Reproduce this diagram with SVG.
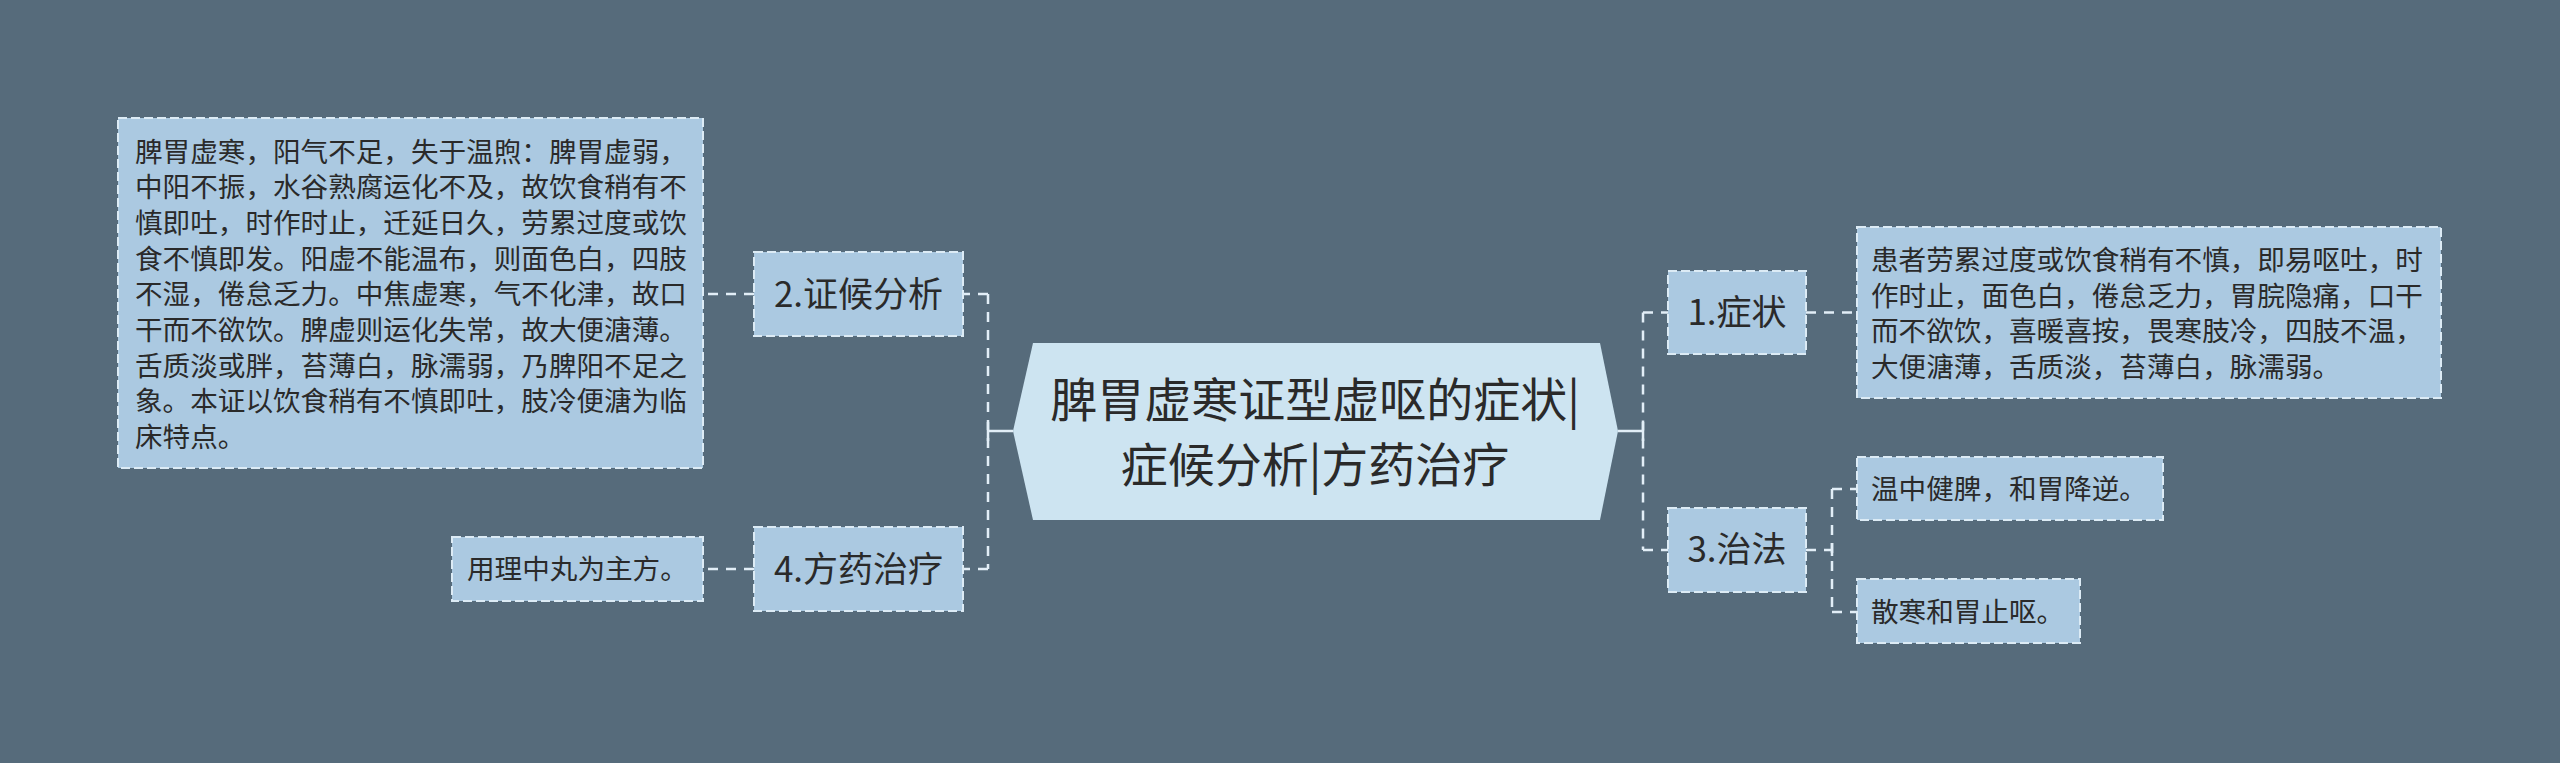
<svg xmlns="http://www.w3.org/2000/svg" width="2560" height="763" viewBox="0 0 2560 763">
<style>
.bg{fill:#566b7b}
.box{fill:#abc9e1;stroke:#dcebf5;stroke-width:2;stroke-dasharray:9 4}
.center{fill:#cde4f1}
.t{font-family:"Noto Sans CJK SC","Noto Sans",sans-serif;fill:#2a2a2a}
.body{font-size:27.6px}
.branch{font-size:35px;text-anchor:middle}
.title{font-size:47px;text-anchor:middle}
.solid{fill:none;stroke:#e2eef7;stroke-width:2.5}
.dash{fill:none;stroke:#e2eef7;stroke-width:2.5;stroke-dasharray:10 8}
</style>
<rect class="bg" x="0" y="0" width="2560" height="763"/>
<g id="connectors">
<path class="solid" d="M1013,431 H988 M988,422 V441"/>
<path class="dash" d="M988,294 V569 M988,294 H963 M988,569 H963"/>
<path class="dash" d="M754,294 H703 M754,569 H703"/>
<path class="solid" d="M1618,431 H1643 M1643,422 V441"/>
<path class="dash" d="M1643,312.5 V550 M1643,312.5 H1668 M1643,550 H1668"/>
<path class="dash" d="M1806,312.5 H1857"/>
<path class="dash" d="M1806,550 H1832 M1832,489 V612 M1832,489 H1857 M1832,612 H1857"/>
<path class="solid" d="M1832,543 V556"/>
</g>
<g id="center">
<polygon class="center" points="1033,343 1600,343 1618,431 1600,520 1033,520 1013,431"/>
<text class="t title" x="1315" y="417">脾胃虚寒证型虚呕的症状|</text>
<text class="t title" x="1315" y="482">症候分析|方药治疗</text>
</g>
<g id="n2">
<rect class="box" x="754" y="252" width="209" height="84"/>
<text class="t branch" x="858.5" y="307">2.证候分析</text>
</g>
<g id="n2a">
<rect class="box" x="118" y="118" width="585" height="350"/>
<text class="t body" x="135" y="161.5">脾胃虚寒，阳气不足，失于温煦：脾胃虚弱，</text>
<text class="t body" x="135" y="197.2">中阳不振，水谷熟腐运化不及，故饮食稍有不</text>
<text class="t body" x="135" y="232.9">慎即吐，时作时止，迁延日久，劳累过度或饮</text>
<text class="t body" x="135" y="268.6">食不慎即发。阳虚不能温布，则面色白，四肢</text>
<text class="t body" x="135" y="304.3">不湿，倦怠乏力。中焦虚寒，气不化津，故口</text>
<text class="t body" x="135" y="340">干而不欲饮。脾虚则运化失常，故大便溏薄。</text>
<text class="t body" x="135" y="375.7">舌质淡或胖，苔薄白，脉濡弱，乃脾阳不足之</text>
<text class="t body" x="135" y="411.4">象。本证以饮食稍有不慎即吐，肢冷便溏为临</text>
<text class="t body" x="135" y="447.1">床特点。</text>
</g>
<g id="n4">
<rect class="box" x="754" y="527" width="209" height="84"/>
<text class="t branch" x="858.5" y="582">4.方药治疗</text>
</g>
<g id="n4a">
<rect class="box" x="452" y="537" width="251" height="64"/>
<text class="t body" x="467" y="579">用理中丸为主方。</text>
</g>
<g id="n1">
<rect class="box" x="1668" y="271" width="138" height="83"/>
<text class="t branch" x="1737" y="325">1.症状</text>
</g>
<g id="n1a">
<rect class="box" x="1857" y="227" width="584" height="171"/>
<text class="t body" x="1871" y="270">患者劳累过度或饮食稍有不慎，即易呕吐，时</text>
<text class="t body" x="1871" y="305.7">作时止，面色白，倦怠乏力，胃脘隐痛，口干</text>
<text class="t body" x="1871" y="341.4">而不欲饮，喜暖喜按，畏寒肢冷，四肢不温，</text>
<text class="t body" x="1871" y="377.1">大便溏薄，舌质淡，苔薄白，脉濡弱。</text>
</g>
<g id="n3">
<rect class="box" x="1668" y="508" width="138" height="84"/>
<text class="t branch" x="1737" y="562">3.治法</text>
</g>
<g id="n3a">
<rect class="box" x="1857" y="457" width="306" height="63"/>
<text class="t body" x="1871" y="499">温中健脾，和胃降逆。</text>
</g>
<g id="n3b">
<rect class="box" x="1857" y="579" width="223" height="64"/>
<text class="t body" x="1871" y="621.5">散寒和胃止呕。</text>
</g>
</svg>
